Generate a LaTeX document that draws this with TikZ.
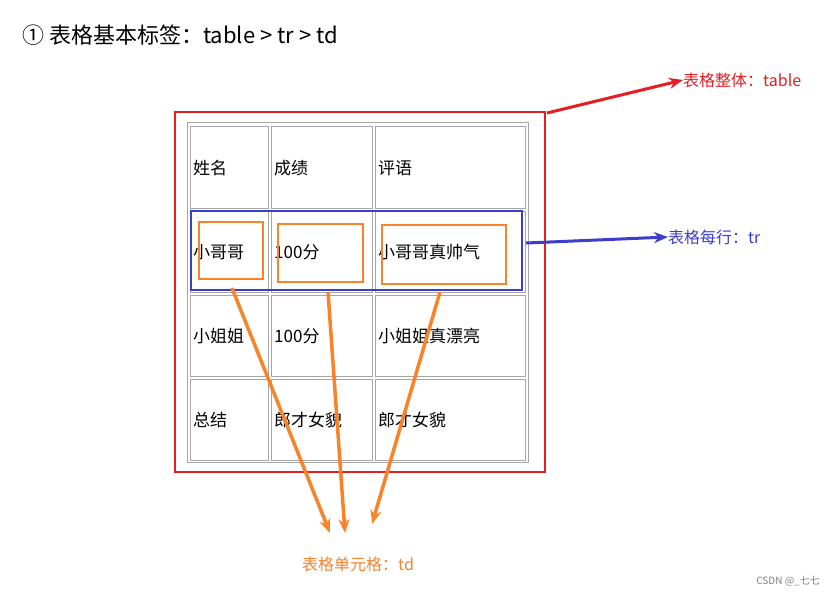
\documentclass[tikz,border=0pt]{standalone}
\usepackage{fontspec}
\setmainfont{Noto Sans CJK SC}
\usetikzlibrary{arrows.meta}
\definecolor{myred}{RGB}{230,30,35}
\definecolor{myblue}{RGB}{60,60,205}
\definecolor{myor}{RGB}{250,130,40}
\begin{document}
\begin{tikzpicture}[x=1pt,y=-1pt,
  cell/.style={draw=gray!70,line width=0.8pt},
  ctext/.style={anchor=west,font=\fontsize{17}{17}\selectfont,inner sep=0},
  lab/.style={anchor=west,font=\fontsize{16}{16}\selectfont,inner sep=0},
  oarr/.style={myor,line width=3.5pt,-{Stealth[length=14pt,width=11pt]}},
  box/.style={line width=2.5pt}]
\useasboundingbox[fill=white] (0,0) rectangle (835,597);
\node[anchor=west,font=\fontsize{22}{22}\selectfont,inner sep=0] (title) at (22,35) {①\ 表格基本标签：table > tr > td};
% table
\draw[cell] (187,122) rectangle (528,462);
\foreach \xa/\xb in {190/268,271/372,375/525}
  \foreach \ya/\yb in {126/208,211/292,295/376,379/460}
    \draw[cell] (\xa,\ya) rectangle (\xb,\yb);
\node[ctext] (c11) at (193,168) {姓名};
\node[ctext] (c12) at (274,168) {成绩};
\node[ctext] (c13) at (378,168) {评语};
\node[ctext] (c21) at (193,252) {小哥哥};
\node[ctext] (c22) at (274,252) {100分};
\node[ctext] (c23) at (378,252) {小哥哥真帅气};
\node[ctext] (c31) at (193,336) {小姐姐};
\node[ctext] (c32) at (274,336) {100分};
\node[ctext] (c33) at (378,336) {小姐姐真漂亮};
\node[ctext] (c41) at (193,420) {总结};
\node[ctext] (c42) at (274,420) {郎才女貌};
\node[ctext] (c43) at (378,420) {郎才女貌};
% boxes
\draw[box,myred] (175,112) rectangle (545,472);
\draw[box,myblue] (191,211) rectangle (522,290);
\draw[box,myor] (199,222) rectangle (263,279);
\draw[box,myor] (278,224) rectangle (363,282);
\draw[box,myor] (382,225) rectangle (506,284);
% coordinates
\coordinate (o1) at (232,288);
\coordinate (o2) at (328,292);
\coordinate (o3) at (440,292);
\coordinate (t1) at (330,533);
\coordinate (t2) at (345,533);
\coordinate (t3) at (372,524);
\coordinate (rs) at (547,113);
\coordinate (bs) at (526,243);
% labels
\node[lab,text=myor] (ltd) at (302,564) {表格单元格：td};
\node[lab,text=myred] (ltable) at (683,80) {表格整体：table};
\node[lab,text=myblue] (ltr) at (668,237) {表格每行：tr};
\node[anchor=east,font=\fontsize{10}{10}\selectfont,text=gray,inner sep=0] (csdn) at (820,581) {CSDN @\_七七};
% arrows
\draw[oarr] (o1) -- (t1);
\draw[oarr] (o2) -- (t2);
\draw[oarr] (o3) -- (t3);
\draw[myred,line width=3pt,-{Stealth[length=14pt,width=11pt]}] (rs) -- (ltable.west);
\draw[myblue,line width=3pt,-{Stealth[length=14pt,width=11pt]}] (bs) -- (ltr.west);
\end{tikzpicture}
\end{document}
